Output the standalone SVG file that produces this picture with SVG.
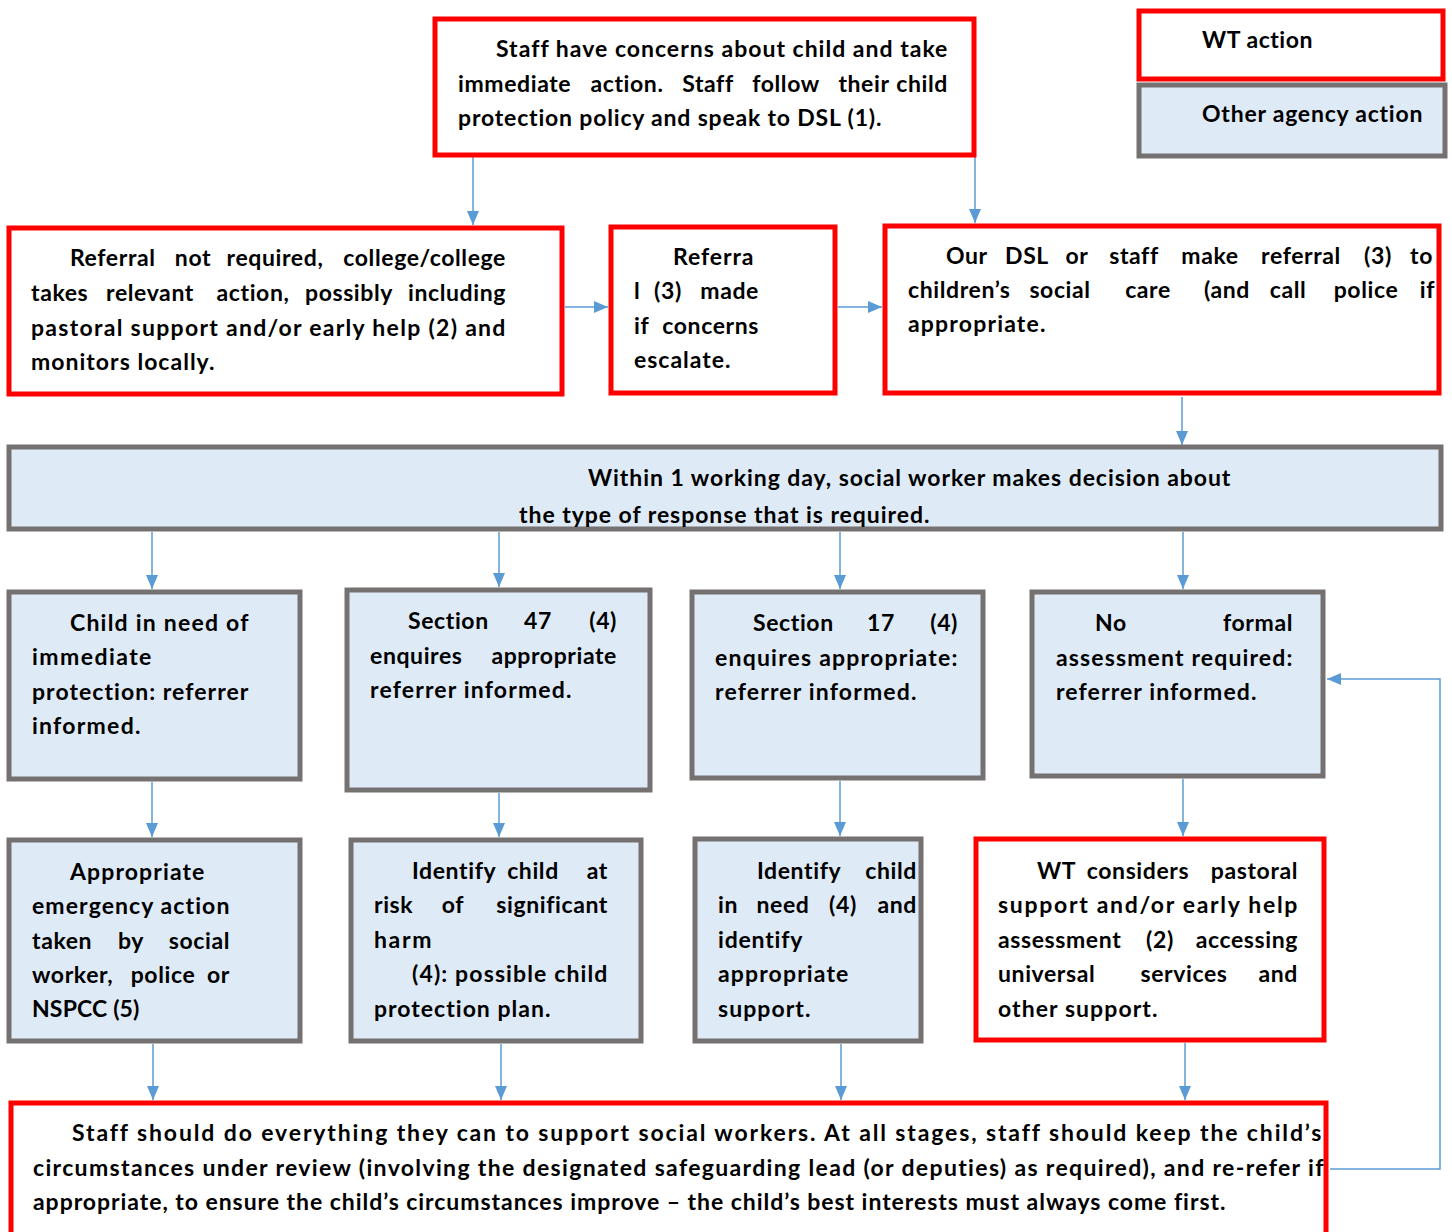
<svg xmlns="http://www.w3.org/2000/svg" width="1452" height="1232" viewBox="0 0 1452 1232">
<style>
.t{font-family:Lato,"Liberation Sans",sans-serif;font-weight:700;font-size:23px;fill:#000;letter-spacing:0.6px}
.e{text-anchor:end}
.m{text-anchor:middle}
.wt{fill:#fff;stroke:#ff0000;stroke-width:5}
.oa{fill:#deeaf6;stroke:#767171;stroke-width:5}
.c{fill:none;stroke:#5b9bd5;stroke-width:1.5}
</style>
<defs>
<marker id="ah" markerUnits="userSpaceOnUse" markerWidth="14" markerHeight="12" refX="14" refY="6" orient="auto">
<path d="M0,0 L14,6 L0,12 Z" fill="#5b9bd5"/>
</marker>
</defs>
<rect width="1452" height="1232" fill="#fff"/>

<g id="connectors">
<line class="c" x1="473" y1="157" x2="473" y2="225" marker-end="url(#ah)"/>
<line class="c" x1="975" y1="157" x2="975" y2="223" marker-end="url(#ah)"/>
<line class="c" x1="565" y1="307" x2="608" y2="307" marker-end="url(#ah)"/>
<line class="c" x1="838" y1="307" x2="882" y2="307" marker-end="url(#ah)"/>
<line class="c" x1="1182" y1="397" x2="1182" y2="445" marker-end="url(#ah)"/>
<line class="c" x1="152" y1="532" x2="152" y2="589" marker-end="url(#ah)"/>
<line class="c" x1="499" y1="532" x2="499" y2="587" marker-end="url(#ah)"/>
<line class="c" x1="840" y1="532" x2="840" y2="589" marker-end="url(#ah)"/>
<line class="c" x1="1183" y1="532" x2="1183" y2="589" marker-end="url(#ah)"/>
<line class="c" x1="152" y1="782" x2="152" y2="837" marker-end="url(#ah)"/>
<line class="c" x1="499" y1="793" x2="499" y2="837" marker-end="url(#ah)"/>
<line class="c" x1="840" y1="781" x2="840" y2="836" marker-end="url(#ah)"/>
<line class="c" x1="1183" y1="779" x2="1183" y2="836" marker-end="url(#ah)"/>
<line class="c" x1="153" y1="1044" x2="153" y2="1100" marker-end="url(#ah)"/>
<line class="c" x1="501" y1="1044" x2="501" y2="1100" marker-end="url(#ah)"/>
<line class="c" x1="841" y1="1044" x2="841" y2="1100" marker-end="url(#ah)"/>
<line class="c" x1="1185" y1="1043" x2="1185" y2="1100" marker-end="url(#ah)"/>
<polyline class="c" points="1330,1169 1440,1169 1440,679 1327,679" marker-end="url(#ah)"/>
</g>

<g id="legend-wt">
<rect class="wt" x="1139" y="11" width="304" height="68"/>
<text class="t" x="1202" y="48" textLength="111" lengthAdjust="spacing">WT action</text>
</g>
<g id="legend-other">
<rect class="oa" x="1139" y="85" width="306" height="71"/>
<text class="t" x="1202" y="122" textLength="221" lengthAdjust="spacing">Other agency action</text>
</g>

<g id="n-staff-concerns">
<rect class="wt" x="435" y="19" width="539" height="136"/>
<text class="t" x="496" y="57" textLength="452" lengthAdjust="spacing">Staff have concerns about child and take</text>
<text class="t" y="92"><tspan x="458">immediate</tspan><tspan class="m" x="627">action.</tspan><tspan class="m" x="708">Staff</tspan><tspan class="m" x="786">follow</tspan><tspan class="m" x="864">their</tspan><tspan class="e" x="948">child</tspan></text>
<text class="t" x="458" y="126" textLength="424" lengthAdjust="spacing">protection policy and speak to DSL (1).</text>
</g>

<g id="n-referral-not-required">
<rect class="wt" x="9" y="228" width="553" height="166"/>
<text class="t" y="266"><tspan x="70">Referral</tspan><tspan class="m" x="193">not</tspan><tspan class="m" x="275">required,</tspan><tspan class="e" x="506">college/college</tspan></text>
<text class="t" y="301"><tspan x="31">takes</tspan><tspan class="m" x="150">relevant</tspan><tspan class="m" x="253">action,</tspan><tspan class="m" x="349">possibly</tspan><tspan class="e" x="506">including</tspan></text>
<text class="t" x="31" y="336" textLength="475" lengthAdjust="spacing">pastoral support and/or early help (2) and</text>
<text class="t" x="31" y="370" textLength="184" lengthAdjust="spacing">monitors locally.</text>
</g>

<g id="n-referral-made">
<rect class="wt" x="611" y="227" width="224" height="166"/>
<text class="t" x="673" y="265" textLength="81" lengthAdjust="spacing">Referra</text>
<text class="t" y="299"><tspan x="634">l</tspan><tspan class="m" x="668">(3)</tspan><tspan class="e" x="759">made</tspan></text>
<text class="t" y="334"><tspan x="634">if</tspan><tspan class="e" x="759">concerns</tspan></text>
<text class="t" x="634" y="368" textLength="97" lengthAdjust="spacing">escalate.</text>
</g>

<g id="n-dsl-referral">
<rect class="wt" x="885" y="226" width="554" height="167"/>
<text class="t" y="264"><tspan x="946">Our</tspan><tspan class="m" x="1027">DSL</tspan><tspan class="m" x="1077">or</tspan><tspan class="m" x="1134">staff</tspan><tspan class="m" x="1210">make</tspan><tspan class="m" x="1301">referral</tspan><tspan class="m" x="1378">(3)</tspan><tspan class="e" x="1433">to</tspan></text>
<text class="t" y="298"><tspan x="908">children’s</tspan><tspan class="m" x="1060">social</tspan><tspan class="m" x="1148">care</tspan><tspan class="m" x="1227">(and</tspan><tspan class="m" x="1288">call</tspan><tspan class="m" x="1366">police</tspan><tspan class="e" x="1435">if</tspan></text>
<text class="t" x="908" y="332" textLength="138" lengthAdjust="spacing">appropriate.</text>
</g>

<g id="n-within-1-day">
<rect class="oa" x="9" y="447" width="1432" height="82"/>
<text class="t" x="588" y="486" textLength="643" lengthAdjust="spacing">Within 1 working day, social worker makes decision about</text>
<text class="t" x="519" y="523" textLength="411" lengthAdjust="spacing">the type of response that is required.</text>
</g>

<g id="n-immediate-protection">
<rect class="oa" x="9" y="592" width="291" height="187"/>
<text class="t" x="70" y="631" textLength="179" lengthAdjust="spacing">Child in need of</text>
<text class="t" x="32" y="665" textLength="120" lengthAdjust="spacing">immediate</text>
<text class="t" x="32" y="700" textLength="217" lengthAdjust="spacing">protection: referrer</text>
<text class="t" x="32" y="734" textLength="109" lengthAdjust="spacing">informed.</text>
</g>

<g id="n-section-47">
<rect class="oa" x="347" y="590" width="303" height="200"/>
<text class="t" y="629"><tspan x="408">Section</tspan><tspan class="m" x="538">47</tspan><tspan class="e" x="617">(4)</tspan></text>
<text class="t" y="664"><tspan x="370">enquires</tspan><tspan class="e" x="617">appropriate</tspan></text>
<text class="t" x="370" y="698" textLength="202" lengthAdjust="spacing">referrer informed.</text>
</g>

<g id="n-section-17">
<rect class="oa" x="692" y="592" width="291" height="186"/>
<text class="t" y="631"><tspan x="753">Section</tspan><tspan class="m" x="881">17</tspan><tspan class="e" x="958">(4)</tspan></text>
<text class="t" x="715" y="666" textLength="243" lengthAdjust="spacing">enquires appropriate:</text>
<text class="t" x="715" y="700" textLength="202" lengthAdjust="spacing">referrer informed.</text>
</g>

<g id="n-no-formal">
<rect class="oa" x="1032" y="592" width="291" height="184"/>
<text class="t" y="631"><tspan x="1095">No</tspan><tspan class="e" x="1293">formal</tspan></text>
<text class="t" x="1056" y="666" textLength="237" lengthAdjust="spacing">assessment required:</text>
<text class="t" x="1056" y="700" textLength="201" lengthAdjust="spacing">referrer informed.</text>
</g>

<g id="n-emergency-action">
<rect class="oa" x="9" y="840" width="291" height="201"/>
<text class="t" x="70" y="880" textLength="135" lengthAdjust="spacing">Appropriate</text>
<text class="t" x="32" y="914" textLength="198" lengthAdjust="spacing">emergency action</text>
<text class="t" y="949"><tspan x="32">taken</tspan><tspan class="m" x="131">by</tspan><tspan class="e" x="230">social</tspan></text>
<text class="t" y="983"><tspan x="32">worker,</tspan><tspan class="m" x="163">police</tspan><tspan class="e" x="230">or</tspan></text>
<text class="t" x="32" y="1017" textLength="108" lengthAdjust="spacing">NSPCC (5)</text>
</g>

<g id="n-significant-harm">
<rect class="oa" x="351" y="840" width="290" height="201"/>
<text class="t" y="879"><tspan x="412">Identify</tspan><tspan class="m" x="533">child</tspan><tspan class="e" x="608">at</tspan></text>
<text class="t" y="913"><tspan x="374">risk</tspan><tspan class="m" x="453">of</tspan><tspan class="e" x="608">significant</tspan></text>
<text class="t" x="374" y="948" textLength="58" lengthAdjust="spacing">harm</text>
<text class="t" x="412" y="982" textLength="196" lengthAdjust="spacing">(4): possible child</text>
<text class="t" x="374" y="1017" textLength="177" lengthAdjust="spacing">protection plan.</text>
</g>

<g id="n-child-in-need">
<rect class="oa" x="695" y="839" width="226" height="202"/>
<text class="t" y="879"><tspan x="757">Identify</tspan><tspan class="e" x="917">child</tspan></text>
<text class="t" y="913"><tspan x="718">in</tspan><tspan class="m" x="783">need</tspan><tspan class="m" x="843">(4)</tspan><tspan class="e" x="917">and</tspan></text>
<text class="t" x="718" y="948" textLength="85" lengthAdjust="spacing">identify</text>
<text class="t" x="718" y="982" textLength="131" lengthAdjust="spacing">appropriate</text>
<text class="t" x="718" y="1017" textLength="93" lengthAdjust="spacing">support.</text>
</g>

<g id="n-wt-considers">
<rect class="wt" x="976" y="839" width="348" height="201"/>
<text class="t" y="879"><tspan x="1037">WT</tspan><tspan class="m" x="1138">considers</tspan><tspan class="e" x="1298">pastoral</tspan></text>
<text class="t" x="998" y="913" textLength="300" lengthAdjust="spacing">support and/or early help</text>
<text class="t" y="948"><tspan x="998">assessment</tspan><tspan class="m" x="1160">(2)</tspan><tspan class="e" x="1298">accessing</tspan></text>
<text class="t" y="982"><tspan x="998">universal</tspan><tspan class="m" x="1184">services</tspan><tspan class="e" x="1298">and</tspan></text>
<text class="t" x="998" y="1017" textLength="160" lengthAdjust="spacing">other support.</text>
</g>

<g id="n-staff-support">
<rect class="wt" x="11" y="1103" width="1315" height="140"/>
<text class="t" x="72" y="1141" textLength="1250" lengthAdjust="spacing">Staff should do everything they can to support social workers. At all stages, staff should keep the child’s</text>
<text class="t" x="33" y="1176" textLength="1291" lengthAdjust="spacing">circumstances under review (involving the designated safeguarding lead (or deputies) as required), and re-refer if</text>
<text class="t" x="33" y="1210" textLength="1193" lengthAdjust="spacing">appropriate, to ensure the child’s circumstances improve – the child’s best interests must always come first.</text>
</g>
</svg>
